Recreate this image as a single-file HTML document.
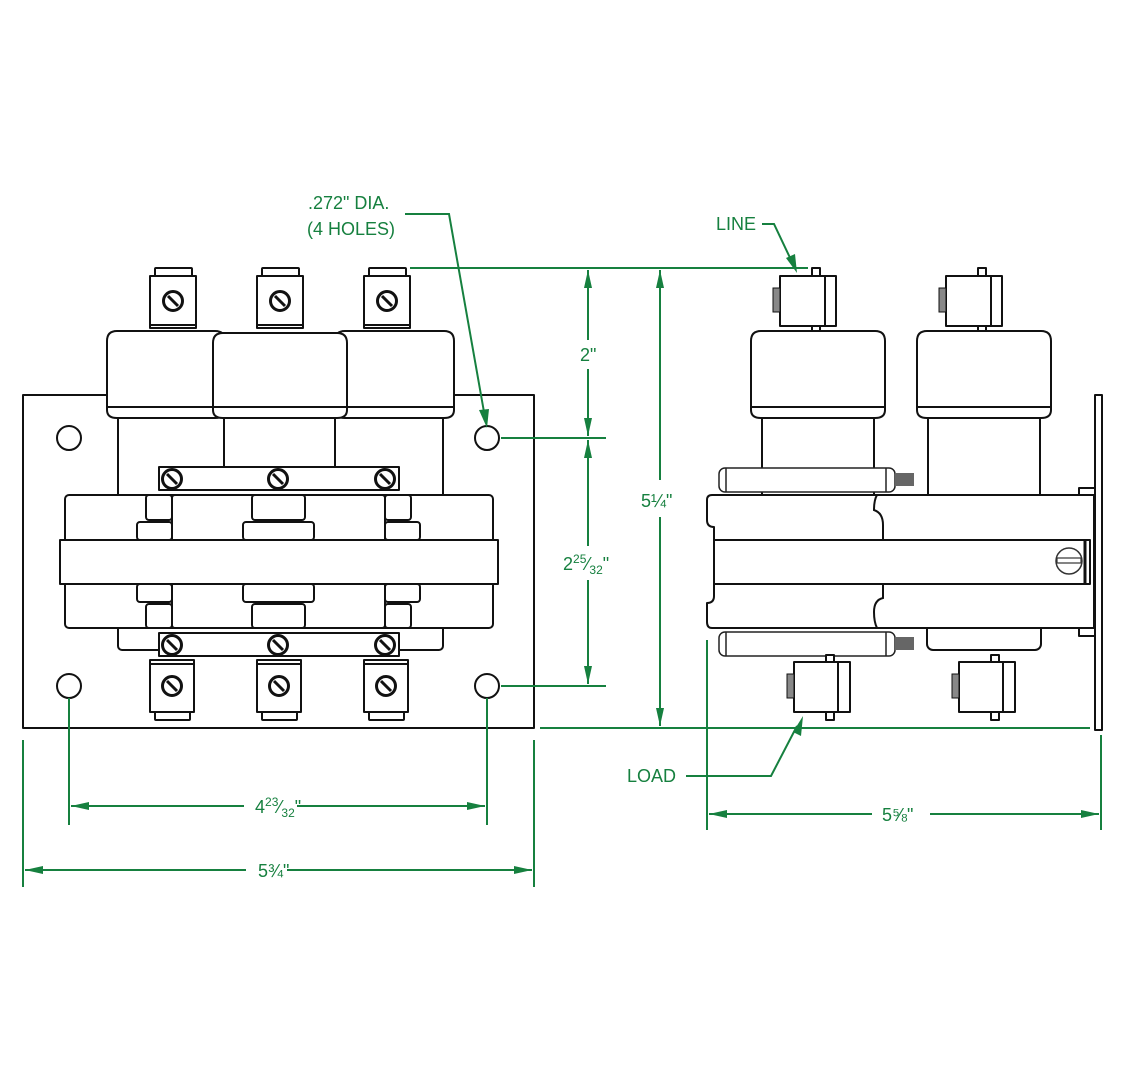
<!DOCTYPE html>
<html><head><meta charset="utf-8"><style>
html,body{margin:0;padding:0;background:#fff;}
svg{display:block;}
.k{fill:#fff;stroke:#111;stroke-width:2;stroke-linejoin:round;}
.kn{fill:none;stroke:#111;stroke-width:2;}
.g{stroke:#16803f;stroke-width:2;fill:none;}
.ga{fill:#16803f;}
text{font-family:"Liberation Sans",sans-serif;fill:#16803f;font-size:18px;}
</style></head><body>
<svg width="1124" height="1080" viewBox="0 0 1124 1080" xmlns="http://www.w3.org/2000/svg">
<defs>
<g id="scr"><circle r="9.5" fill="#fff" stroke="#111" stroke-width="3"/><line x1="-5" y1="-5" x2="5" y2="5" stroke="#111" stroke-width="3"/><line x1="-3" y1="-7" x2="7" y2="3" stroke="#fff" stroke-width="1"/></g>
<g id="tt"><rect class="k" x="155" y="268" width="37" height="8" rx="1"/><rect class="k" x="150" y="276" width="46" height="52"/><line class="kn" x1="150" y1="325" x2="196" y2="325"/><use href="#scr" x="173" y="301"/></g>
<g id="tb"><rect class="k" x="155" y="712" width="35" height="8" rx="1"/><rect class="k" x="150" y="660" width="44" height="52"/><line class="kn" x1="150" y1="664" x2="194" y2="664"/><use href="#scr" x="172" y="686"/></g>
<g id="st"><rect class="k" x="812" y="268" width="8" height="63"/><rect class="k" x="780" y="276" width="56" height="50"/><line class="kn" x1="825" y1="276" x2="825" y2="326"/><rect x="773" y="288" width="7" height="24" fill="#888" stroke="#111" stroke-width="1"/></g>
<g id="sb"><rect class="k" x="826" y="655" width="8" height="65"/><rect class="k" x="794" y="662" width="56" height="50"/><line class="kn" x1="838" y1="662" x2="838" y2="712"/><rect x="787" y="674" width="7" height="24" fill="#888" stroke="#111" stroke-width="1"/></g>
<g id="bolt"><rect x="719" y="468" width="176" height="24" rx="6" fill="#fff" stroke="#222" stroke-width="1.5"/><line x1="726" y1="468" x2="726" y2="492" stroke="#222" stroke-width="1.5"/><line x1="886" y1="468" x2="886" y2="492" stroke="#222" stroke-width="1.5"/><rect x="895" y="473" width="19" height="13" fill="#666"/></g>
</defs>

<!-- FRONT VIEW -->
<rect class="k" x="23" y="395" width="511" height="333"/>
<circle class="k" cx="69" cy="438" r="12"/><circle class="k" cx="487" cy="438" r="12"/>
<circle class="k" cx="69" cy="686" r="12"/><circle class="k" cx="487" cy="686" r="12"/>
<use href="#tt"/><use href="#tt" x="107"/><use href="#tt" x="214"/>
<!-- necks -->
<rect class="k" x="118" y="410" width="325" height="90"/>
<line class="kn" x1="224" y1="418" x2="224" y2="467"/><line class="kn" x1="335" y1="418" x2="335" y2="467"/>
<!-- caps -->
<path class="k" d="M117 331 H215 Q225 331 225 341 V410 Q225 418 215 418 H117 Q107 418 107 410 V341 Q107 331 117 331Z"/>
<line class="kn" x1="107" y1="407" x2="225" y2="407"/>
<path class="k" d="M345 331 H444 Q454 331 454 341 V410 Q454 418 444 418 H345 Q335 418 335 410 V341 Q335 331 345 331Z"/>
<line class="kn" x1="335" y1="407" x2="454" y2="407"/>
<path class="k" d="M223 333 H337 Q347 333 347 343 V410 Q347 418 337 418 H223 Q213 418 213 410 V343 Q213 333 223 333Z"/>
<line class="kn" x1="213" y1="407" x2="347" y2="407"/>
<!-- bottom box -->
<rect class="k" x="118" y="610" width="325" height="40" rx="4"/>
<!-- body -->
<rect class="k" x="65" y="495" width="428" height="133" rx="4"/>
<rect class="k" x="146" y="495" width="26" height="25" rx="3"/><rect class="k" x="137" y="522" width="35" height="18" rx="3"/>
<rect class="k" x="385" y="495" width="26" height="25" rx="3"/><rect class="k" x="385" y="522" width="35" height="18" rx="3"/>
<rect class="k" x="146" y="604" width="26" height="24" rx="3"/><rect class="k" x="137" y="584" width="35" height="18" rx="3"/>
<rect class="k" x="385" y="604" width="26" height="24" rx="3"/><rect class="k" x="385" y="584" width="35" height="18" rx="3"/>
<rect class="k" x="172" y="495" width="213" height="133" rx="3"/>
<rect class="k" x="252" y="495" width="53" height="25" rx="3"/><rect class="k" x="243" y="522" width="71" height="18" rx="3"/>
<rect class="k" x="252" y="604" width="53" height="24" rx="3"/><rect class="k" x="243" y="584" width="71" height="18" rx="3"/>
<rect class="k" x="60" y="540" width="438" height="44"/>
<!-- bars -->
<rect class="k" x="159" y="467" width="240" height="23"/>
<use href="#scr" x="172" y="479"/><use href="#scr" x="278" y="479"/><use href="#scr" x="385" y="479"/>
<rect class="k" x="159" y="633" width="240" height="23"/>
<use href="#scr" x="172" y="645"/><use href="#scr" x="278" y="645"/><use href="#scr" x="385" y="645"/>
<use href="#tb"/><use href="#tb" x="107"/><use href="#tb" x="214"/>

<!-- SIDE VIEW -->
<rect class="k" x="1095" y="395" width="7" height="335"/>
<rect class="k" x="1079" y="488" width="16" height="8"/><rect class="k" x="1079" y="628" width="16" height="8"/>
<use href="#st"/><use href="#st" x="166"/>
<rect class="k" x="762" y="410" width="112" height="90"/>
<rect class="k" x="928" y="410" width="112" height="90"/>
<path class="k" d="M761 331 H875 Q885 331 885 341 V410 Q885 418 875 418 H761 Q751 418 751 410 V341 Q751 331 761 331Z"/>
<line class="kn" x1="751" y1="407" x2="885" y2="407"/>
<path class="k" d="M927 331 H1041 Q1051 331 1051 341 V410 Q1051 418 1041 418 H927 Q917 418 917 410 V341 Q917 331 927 331Z"/>
<line class="kn" x1="917" y1="407" x2="1051" y2="407"/>
<use href="#bolt"/>
<rect class="k" x="927" y="610" width="114" height="40" rx="6"/>
<path class="k" d="M712 495 H1094 V628 H712 Q707 628 707 622 V603 Q714 603 714 596 V527 Q707 527 707 520 V500 Q707 495 712 495Z"/>
<path class="kn" d="M877 495 Q874 500 874 510 Q883 513 883 525 V540 M883 584 V598 Q874 600 874 612 Q874 622 877 628"/>
<rect class="k" x="714" y="540" width="376" height="44"/>
<line x1="1085" y1="540" x2="1085" y2="584" stroke="#111" stroke-width="3"/>
<circle cx="1069" cy="561" r="13" fill="#fff" stroke="#333" stroke-width="1.5"/>
<rect x="1057" y="558" width="24" height="5" fill="#fff" stroke="#333" stroke-width="1.2"/>
<use href="#bolt" y="164"/>
<use href="#sb"/><use href="#sb" x="165"/>

<!-- DIMENSIONS -->
<text x="308" y="209">.272" DIA.</text>
<text x="307" y="235">(4 HOLES)</text>
<path class="g" d="M405 214 H449 L484 412"/>
<path class="ga" d="M487 428 L479 410 L489 409Z"/>
<line class="g" x1="410" y1="268" x2="808" y2="268"/>
<text x="716" y="230">LINE</text>
<path class="g" d="M762 224 H774 L792 262"/>
<path class="ga" d="M797 273 L786 258 L795 254Z"/>
<!-- verticals -->
<line class="g" x1="588" y1="270" x2="588" y2="340"/><line class="g" x1="588" y1="369" x2="588" y2="436"/>
<path class="ga" d="M588 270 L584 288 L592 288Z M588 436 L584 418 L592 418Z"/>
<text x="580" y="361">2"</text>
<line class="g" x1="501" y1="438" x2="606" y2="438"/>
<line class="g" x1="588" y1="440" x2="588" y2="546"/><line class="g" x1="588" y1="580" x2="588" y2="684"/>
<path class="ga" d="M588 440 L584 458 L592 458Z M588 684 L584 666 L592 666Z"/>
<text x="563" y="570">2<tspan font-size="12" dy="-7">25</tspan><tspan dy="7">⁄</tspan><tspan font-size="12" dy="4">32</tspan><tspan dy="-4">"</tspan></text>
<line class="g" x1="501" y1="686" x2="606" y2="686"/>
<line class="g" x1="660" y1="270" x2="660" y2="480"/><line class="g" x1="660" y1="517" x2="660" y2="726"/>
<path class="ga" d="M660 270 L656 288 L664 288Z M660 726 L656 708 L664 708Z"/>
<text x="641" y="507">5¼"</text>
<line class="g" x1="540" y1="728" x2="1090" y2="728"/>
<text x="627" y="782">LOAD</text>
<path class="g" d="M686 776 H771 L797 726"/>
<path class="ga" d="M803 716 L793 732 L801 736Z"/>
<!-- horizontals -->
<line class="g" x1="69" y1="698" x2="69" y2="825"/><line class="g" x1="487" y1="698" x2="487" y2="825"/>
<line class="g" x1="71" y1="806" x2="244" y2="806"/><line class="g" x1="297" y1="806" x2="485" y2="806"/>
<path class="ga" d="M71 806 L89 802 L89 810Z M485 806 L467 802 L467 810Z"/>
<text x="255" y="813">4<tspan font-size="12" dy="-7">23</tspan><tspan dy="7">⁄</tspan><tspan font-size="12" dy="4">32</tspan><tspan dy="-4">"</tspan></text>
<line class="g" x1="23" y1="740" x2="23" y2="887"/><line class="g" x1="534" y1="740" x2="534" y2="887"/>
<line class="g" x1="25" y1="870" x2="246" y2="870"/><line class="g" x1="287" y1="870" x2="532" y2="870"/>
<path class="ga" d="M25 870 L43 866 L43 874Z M532 870 L514 866 L514 874Z"/>
<text x="258" y="877">5¾"</text>
<line class="g" x1="707" y1="640" x2="707" y2="830"/><line class="g" x1="1101" y1="735" x2="1101" y2="830"/>
<line class="g" x1="709" y1="814" x2="872" y2="814"/><line class="g" x1="930" y1="814" x2="1099" y2="814"/>
<path class="ga" d="M709 814 L727 810 L727 818Z M1099 814 L1081 810 L1081 818Z"/>
<text x="882" y="821">5⅝"</text>
</svg>
</body></html>
